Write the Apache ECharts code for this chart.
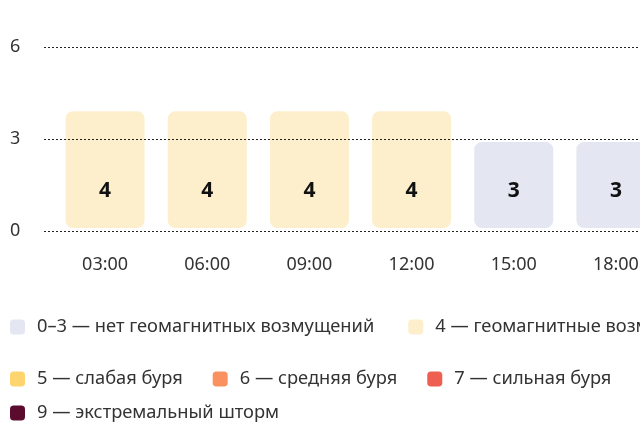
<!DOCTYPE html>
<html>
<head>
<meta charset="utf-8">
<script src="https://cdn.jsdelivr.net/npm/echarts@6/dist/echarts.min.js"></script>
<style>
  html, body { margin: 0; padding: 0; background: #fff; overflow: hidden; }
  /* график шире окна: правая часть обрезается, как на исходной картинке */
  #kp_chart { width: 900px; height: 425px; }
</style>
</head>
<body>
<div id="kp_chart"></div>
<script>
// данные графика
var times = ['03:00', '06:00', '09:00', '12:00', '15:00', '18:00'];
var kp = [4, 4, 4, 4, 3, 3];
var yTicks = [0, 3, 6];
// уровни шкалы (верхняя граница каждого уровня)
var levelMax = [3, 4, 5, 6, 7, 9];
var levelNames = [
    '0–3 — нет геомагнитных возмущений',
    '4 — геомагнитные возмущения',
    '5 — слабая буря',
    '6 — средняя буря',
    '7 — сильная буря',
    '9 — экстремальный шторм'
];
var levelColors = ['#E4E7F1', '#FDEFCB', '#FDD46E', '#F9925F', '#EE5F52', '#5A0B2E'];

function levelOf(v) {
    for (var i = 0; i < levelMax.length; i++) {
        if (v <= levelMax[i]) return i;
    }
    return levelMax.length - 1;
}

var chart = echarts.init(document.getElementById('kp_chart'), null, { renderer: 'canvas' });
var font = '"Noto Sans", sans-serif';

var series = levelNames.map(function (name, i) {
    return {
        type: 'bar',
        name: name,
        xAxisIndex: 0,
        yAxisIndex: 0,
        barWidth: 85,
        barGap: '-100%',
        z: 2,
        itemStyle: {
            color: levelColors[i],
            borderRadius: 9,
            borderColor: '#fff',
            borderWidth: 3
        },
        label: {
            show: true,
            position: 'insideBottom',
            distance: 29,
            fontFamily: font,
            fontSize: 21,
            fontWeight: 'bold',
            color: '#111'
        },
        data: kp.map(function (v) { return levelOf(v) === i ? v : '-'; })
    };
});

var legendBase = {
    left: 10,
    width: 880,
    padding: 0,
    icon: 'roundRect',
    itemWidth: 15,
    itemHeight: 15,
    itemGap: 30,
    selectedMode: false,
    itemStyle: { borderWidth: 0 },
    textStyle: { fontFamily: font, fontSize: 18.3, color: '#333', padding: [0, 0, 0, 7] }
};

var option = {
    backgroundColor: '#FFFFFF',
    animation: false,
    grid: [
        { left: 54, right: 233, top: 47, bottom: 194 },
        { left: 44, right: 0, top: 47, bottom: 194 }
    ],
    legend: [
        Object.assign({}, legendBase, { top: 318, itemGap: 34, data: levelNames.slice(0, 2) }),
        Object.assign({}, legendBase, { top: 370, data: levelNames.slice(2, 5) }),
        Object.assign({}, legendBase, { top: 404, data: levelNames.slice(5) })
    ],
    xAxis: [{
        gridIndex: 0,
        type: 'category',
        data: times,
        axisLine: { show: false },
        axisTick: { show: false },
        axisLabel: { margin: 25, fontFamily: font, fontSize: 18, color: '#333' }
    }, {
        gridIndex: 1,
        type: 'value',
        show: false,
        min: 0,
        max: 1
    }],
    yAxis: [{
        gridIndex: 0,
        type: 'value',
        min: yTicks[0],
        max: yTicks[yTicks.length - 1],
        interval: 3,
        show: false
    }, {
        gridIndex: 1,
        type: 'value',
        min: yTicks[0],
        max: yTicks[yTicks.length - 1],
        interval: 3,
        z: 10,
        axisLine: { show: false },
        axisTick: { show: false },
        axisLabel: { align: 'left', margin: 34, fontFamily: font, fontSize: 18, color: '#333' },
        splitLine: { show: true, lineStyle: { color: '#222', width: 1, type: [2, 2] } }
    }],
    series: series
};

chart.setOption(option);
window.onresize = function () {
    chart.resize();
};
</script>
</body>
</html>
